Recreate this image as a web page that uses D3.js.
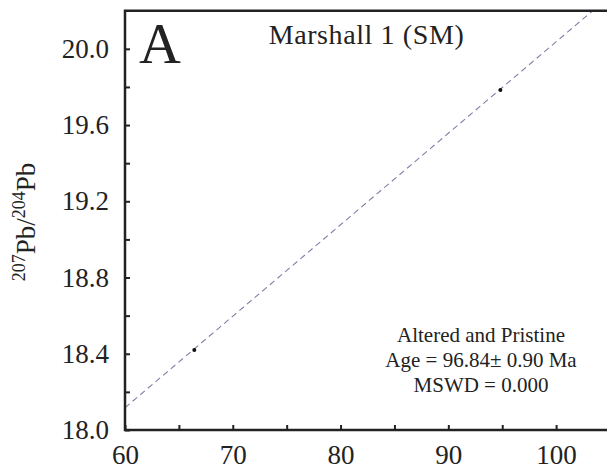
<!DOCTYPE html>
<html>
<head>
<meta charset="utf-8">
<script src="https://cdn.jsdelivr.net/npm/d3@7"></script>
<style>
  html, body { margin: 0; padding: 0; background: #fff; }
  svg { display: block; }
  svg text { font-family: "Liberation Serif", "Times New Roman", serif; fill: #222; }
</style>
</head>
<body>
<script>
// ---- data ----
const pointsX = [66.43, 94.83];
const pointsY = [18.42, 19.784];
const isochronX = [60, 103.4];
const isochronY = [18.117, 20.2];
const xTickLabels = [60, 70, 80, 90, 100];
const yTickLabels = [18.0, 18.4, 18.8, 19.2, 19.6, 20.0];
const xMinorTicks = [65, 75, 85, 95];
const yMinorTicks = [18.2, 18.6, 19.0, 19.4, 19.8];
const panelLetter = "A";
const titleText = "Marshall 1 (SM)";
const annotation = ["Altered and Pristine", "Age = 96.84\u00B1 0.90 Ma", "MSWD = 0.000"];

// ---- layout ----
const W = 607, H = 472;
const mLeft = 125, mRight = 610, mTop = 10.7, mBottom = 430;

const svg = d3.select("body").append("svg").attr("width", W).attr("height", H);

const x = d3.scaleLinear().domain([60, 105]).range([mLeft, mRight]);
const y = d3.scaleLinear().domain([18.0, 20.2]).range([mBottom, mTop]);

const ink = "#222";

// isochron (dashed line), clipped to the plot area
const clipId = "plotclip";
svg.append("defs").append("clipPath").attr("id", clipId)
  .append("rect").attr("x", mLeft).attr("y", mTop).attr("width", mRight - mLeft).attr("height", mBottom - mTop);

const lineData = isochronX.map((d, i) => [d, isochronY[i]]);
svg.append("path")
  .attr("clip-path", `url(#${clipId})`)
  .attr("d", d3.line().x(d => x(d[0])).y(d => y(d[1]))(lineData))
  .attr("fill", "none")
  .attr("stroke", "#7e7fa6")
  .attr("stroke-width", 1.1)
  .attr("stroke-dasharray", "6,4");

// points
svg.selectAll("circle.pt").data(pointsX.map((d, i) => [d, pointsY[i]]))
  .enter().append("circle")
  .attr("cx", d => x(d[0])).attr("cy", d => y(d[1]))
  .attr("r", 2).attr("fill", "#111");

// axes (ticks inward)
function styleAxis(g) {
  g.attr("font-family", null).attr("font-size", null);
  g.select(".domain").remove();
  g.selectAll("line").attr("stroke", ink).attr("stroke-width", 2);
  g.selectAll("text").attr("font-size", 27).attr("fill", ink);
}
const xAxis = d3.axisBottom(x).tickValues(xTickLabels).tickSize(-5).tickPadding(15).tickFormat(d3.format("d"));
svg.append("g").attr("transform", `translate(0,${mBottom})`).call(xAxis).call(styleAxis);

const xMinor = d3.axisBottom(x).tickValues(xMinorTicks).tickSize(-5).tickFormat("");
svg.append("g").attr("transform", `translate(0,${mBottom})`).call(xMinor).call(styleAxis);

const yAxis = d3.axisLeft(y).tickValues(yTickLabels).tickSize(-5).tickPadding(16).tickFormat(d3.format(".1f"));
svg.append("g").attr("transform", `translate(${mLeft},0)`).call(yAxis).call(styleAxis);

const yMinor = d3.axisLeft(y).tickValues(yMinorTicks).tickSize(-5).tickFormat("");
svg.append("g").attr("transform", `translate(${mLeft},0)`).call(yMinor).call(styleAxis);

// frame: left, top, bottom
svg.append("path")
  .attr("d", `M${mRight},${mTop}H${mLeft}V${mBottom}H${mRight}`)
  .attr("fill", "none").attr("stroke", ink).attr("stroke-width", 2.5);

// panel letter
svg.append("text").attr("x", 139).attr("y", 63).attr("font-size", 58).text(panelLetter);

// title
svg.append("text").attr("x", 366.5).attr("y", 44).attr("text-anchor", "middle")
  .attr("font-size", 28).attr("letter-spacing", 0.6).text(titleText);

// annotation
annotation.forEach((t, i) => {
  svg.append("text").attr("x", 481).attr("y", 342 + i * 25).attr("text-anchor", "middle")
    .attr("font-size", 21).text(t);
});

// y axis label
const yl = svg.append("text")
  .attr("transform", `translate(35,222) rotate(-90)`)
  .attr("text-anchor", "middle").attr("font-size", 27);
yl.append("tspan").attr("font-size", 18).attr("dy", -10).text("207");
yl.append("tspan").attr("dy", 10).text("Pb/");
yl.append("tspan").attr("font-size", 18).attr("dy", -10).text("204");
yl.append("tspan").attr("dy", 10).text("Pb");
</script>
</body>
</html>
